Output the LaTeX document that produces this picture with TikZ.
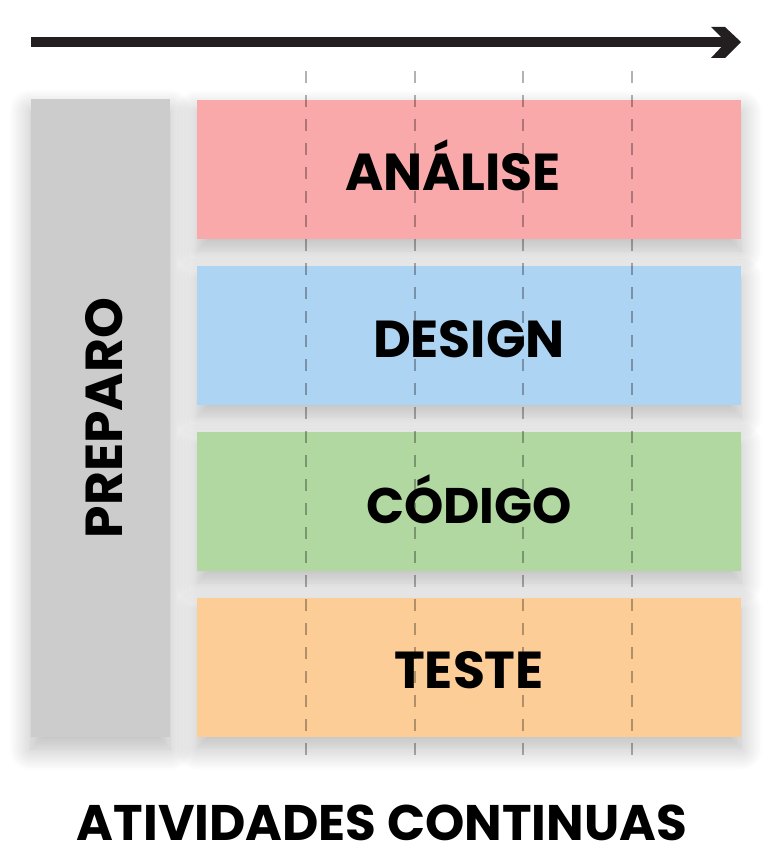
\documentclass[tikz,border=0pt]{standalone}
\usepackage{fontspec}
\setmainfont{Poppins}
\usetikzlibrary{shadows.blur}
\definecolor{arrowc}{HTML}{231F20}
\definecolor{pinkc}{HTML}{F9A9AA}
\definecolor{bluec}{HTML}{ADD4F3}
\definecolor{greenc}{HTML}{B0D8A0}
\definecolor{orangec}{HTML}{FDCD97}
\definecolor{grayc}{HTML}{CCCCCC}
\tikzset{
  softshadow/.style={blur shadow={shadow xshift=0pt, shadow yshift=-12pt, shadow blur radius=22pt, shadow opacity=28, shadow blur steps=16}},
  phase/.style={rectangle, inner sep=0pt, minimum width=544pt, minimum height=139pt, softshadow},
  plabel/.style={font=\bfseries\fontsize{52}{52}\selectfont, text=black, inner sep=0pt, anchor=base},
  guide/.style={draw=black, opacity=0.3, line width=1.5pt, dash pattern=on 12pt off 12pt},
}
\begin{document}
\begin{tikzpicture}[x=1pt,y=-1pt]
\useasboundingbox (0,0) rectangle (771,867);
% arrow
\coordinate (as) at (31,42);
\coordinate (ae) at (730,42);
\draw[arrowc, line width=10pt] (as) -- (ae);
\fill[arrowc] (711,27) -- (725,27) -- (741,42) -- (725,58) -- (711,58) -- (726,42) -- cycle;
% boxes
\node[rectangle, inner sep=0pt, minimum width=139pt, minimum height=638pt, fill=grayc, softshadow] (prep) at (100.5,418) {};
\node[phase, fill=pinkc] (ana) at (469,169.5) {};
\node[phase, fill=bluec] (des) at (469,335.5) {};
\node[phase, fill=greenc] (cod) at (469,501.5) {};
\node[phase, fill=orangec] (tes) at (469,667) {};
% guides
\foreach \x [count=\i] in {306,415,523,632}{
  \coordinate (gt\i) at (\x,71);
  \coordinate (gb\i) at (\x,755);
  \draw[guide] (gt\i) -- (gb\i);
}
% labels
\node[plabel] (lana) at (453,190) {ANÁLISE};
\node[plabel] (ldes) at (469,357.5) {DESIGN};
\node[plabel, font=\bfseries\fontsize{50}{50}\selectfont] (lcod) at (469,523) {CÓDIGO};
\node[plabel] (ltes) at (469,688) {TESTE};
\node[plabel, font=\bfseries\fontsize{52}{52}\selectfont, rotate=90] (lprep) at (122.5,418) {PREPARO};
\node[font=\bfseries\fontsize{50}{50}\selectfont, inner sep=0pt, anchor=base] (foot) at (382,840.5) {ATIVIDADES CONTINUAS};
\end{tikzpicture}
\end{document}
